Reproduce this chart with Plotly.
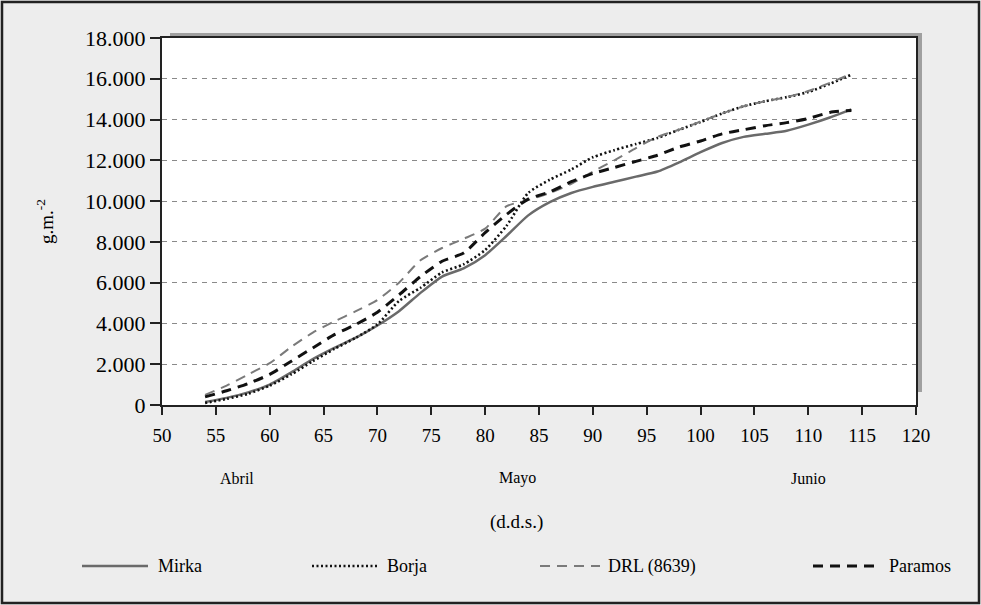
import plotly.graph_objects as go

days = [54, 56, 58, 60, 62, 64, 66, 68, 70, 72, 74, 76, 78, 80, 82, 84, 86, 88,
        90, 92, 94, 96, 98, 100, 102, 104, 106, 108, 110, 112, 114]

mirka = [150, 350, 620, 1000, 1600, 2250, 2800, 3300, 3900, 4600, 5500, 6300, 6700,
         7350, 8300, 9300, 9950, 10400, 10700, 10950, 11200, 11450, 11900, 12400,
         12850, 13150, 13300, 13450, 13750, 14100, 14500]
borja = [100, 300, 550, 950, 1500, 2150, 2750, 3300, 3950, 5100, 5750, 6500, 6900,
         7600, 8800, 10400, 11050, 11550, 12150, 12500, 12800, 13100, 13500, 13880,
         14300, 14650, 14900, 15100, 15350, 15750, 16200]
drl = [500, 950, 1500, 2050, 2850, 3550, 4100, 4600, 5150, 6000, 7100, 7700, 8150,
       8650, 9750, 10050, 10400, 10850, 11450, 12000, 12600, 13150, 13500, 13900,
       14300, 14650, 14900, 15100, 15400, 15800, 16250]
paramos = [400, 700, 1050, 1500, 2150, 2800, 3450, 3950, 4550, 5400, 6300, 7050, 7450,
           8450, 9350, 10100, 10450, 10950, 11350, 11650, 11950, 12250, 12650, 12950,
           13300, 13500, 13700, 13850, 14050, 14350, 14450]

series_names = ["Mirka", "Borja", "DRL (8639)", "Paramos"]
months = ["Abril", "Mayo", "Junio"]
month_pos = [57, 83, 110]
x_ticks = list(range(50, 121, 5))
y_ticks = list(range(0, 18001, 2000))

FONT = "Liberation Serif, Times New Roman, DejaVu Serif, serif"

styles = [
    dict(color="#6a6a6a", width=2.5, dash="solid"),
    dict(color="#111111", width=2.6, dash="2px,2.5px"),
    dict(color="#7a7a7a", width=2.0, dash="10px,7px"),
    dict(color="#111111", width=3.0, dash="10px,7px"),
]
data = [mirka, borja, drl, paramos]

fig = go.Figure()
for name, vals, st in zip(series_names, data, styles):
    fig.add_trace(go.Scatter(x=days, y=vals, mode="lines", name=name,
                             line=dict(color=st["color"], width=st["width"],
                                       dash=st["dash"], shape="spline", smoothing=0.6),
                             showlegend=False, hoverinfo="skip"))

L, R, T, B = 162, 65, 38, 200
W, H = 981, 605
pw, ph = W - L - R, H - T - B


def px(xp):
    return (xp - L) / pw


def py(yp):
    return (H - B - yp) / ph


shapes = [
    # shadow
    dict(type="rect", xref="paper", yref="paper", x0=px(170), x1=px(922),
         y0=py(392), y1=py(33), fillcolor="#a0a0a0", line=dict(width=0), layer="below"),
    # plot background
    dict(type="rect", xref="paper", yref="paper", x0=0, x1=1, y0=0, y1=1,
         fillcolor="white", line=dict(width=0), layer="below"),
    # outer border
    dict(type="rect", xref="paper", yref="paper", x0=px(2), x1=px(979),
         y0=py(603), y1=py(2), line=dict(color="#222", width=2.5), layer="below"),
]

leg_y = py(566)
leg_items = [(82, 148, 156), (312, 378, 385), (540, 600, 606), (813, 878, 887)]
annotations = []
for (x0, x1, xt), name, st in zip(leg_items, series_names, styles):
    shapes.append(dict(type="line", xref="paper", yref="paper", x0=px(x0), x1=px(x1),
                       y0=leg_y, y1=leg_y,
                       line=dict(color=st["color"], width=st["width"], dash=st["dash"])))
    annotations.append(dict(text=name, xref="paper", yref="paper", x=px(xt), y=leg_y,
                            xanchor="left", yanchor="middle", showarrow=False,
                            font=dict(family=FONT, size=18, color="#000")))

for m, p in zip(months, month_pos):
    annotations.append(dict(text=m, xref="x", yref="paper", x=p, y=py(478),
                            xanchor="center", yanchor="middle", showarrow=False,
                            font=dict(family=FONT, size=16, color="#000")))

annotations.append(dict(text="(d.d.s.)", xref="paper", yref="paper", x=px(516), y=py(522),
                        xanchor="center", yanchor="middle", showarrow=False,
                        font=dict(family=FONT, size=19, color="#000")))
annotations.append(dict(text="g.m.<sup>-2</sup>", xref="paper", yref="paper", x=px(45),
                        y=py(222), xanchor="center", yanchor="middle", showarrow=False,
                        textangle=-90, font=dict(family=FONT, size=19, color="#000")))

fig.update_layout(
    width=W, height=H,
    margin=dict(l=L, r=R, t=T, b=B, autoexpand=False),
    paper_bgcolor="#ededed",
    plot_bgcolor="rgba(0,0,0,0)",
    separators=",.",
    shapes=shapes,
    annotations=annotations,
    font=dict(family=FONT),
    xaxis=dict(range=[50, 120], tickmode="array", tickvals=x_ticks,
               ticktext=[str(v) for v in x_ticks], ticks="outside", ticklen=8,
               tickwidth=2, tickcolor="#222", showline=True, linecolor="#222",
               linewidth=2, mirror=True, showgrid=False, zeroline=False,
               ticklabelstandoff=4,
               tickfont=dict(family=FONT, size=19, color="#000")),
    yaxis=dict(range=[0, 18000], tickmode="array", tickvals=y_ticks,
               ticktext=[f"{v:,}".replace(",", ".") for v in y_ticks],
               ticks="outside", ticklen=10, tickwidth=2, tickcolor="#222",
               showline=True, linecolor="#222", linewidth=2, mirror=True,
               showgrid=True, gridcolor="#8a8a8a", gridwidth=1, griddash="5px,5px",
               zeroline=False,
               tickfont=dict(family=FONT, size=22, color="#000")),
)

fig.write_html("out.html", config={"displayModeBar": False},
               post_script="document.body.style.margin='0';")
